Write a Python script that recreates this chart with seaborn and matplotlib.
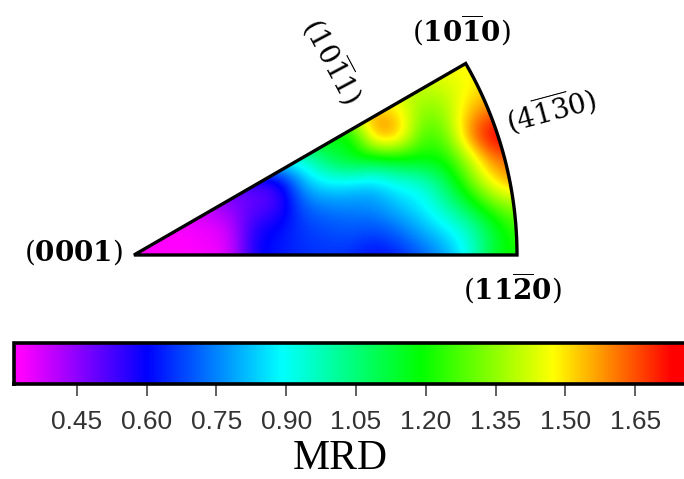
import numpy as np
import matplotlib
matplotlib.use("Agg")
import matplotlib.pyplot as plt
from matplotlib.colors import LinearSegmentedColormap, Normalize
from matplotlib.patches import Polygon
import seaborn as sns

# MRD sampled on a regular grid of the sector, top row first (outside the sector: nearest edge value)
row_y63  = [1.48]*13 + [1.48, 1.48, 1.50, 1.50]
row_y87  = [1.40]*12 + [1.40, 1.42, 1.47, 1.52, 1.52]
row_y111 = [1.50]*10 + [1.55, 1.50, 1.33, 1.36, 1.55, 1.62, 1.62]
row_y135 = [1.20]*8 + [1.20, 1.10, 1.62, 1.60, 1.25, 1.30, 1.62, 1.78, 1.75]
row_y159 = [0.92]*7 + [0.92, 1.08, 1.20, 1.15, 1.18, 1.20, 1.20, 1.40, 1.62, 1.62]
row_y183 = [0.50]*5 + [0.50, 0.52, 0.80, 0.88, 0.85, 0.82, 0.90, 0.92, 1.08, 1.30, 1.50, 1.58]
row_y207 = [0.40]*3 + [0.40, 0.45, 0.50, 0.52, 0.70, 0.74, 0.75, 0.76, 0.82, 0.87, 0.98, 1.12, 1.28, 1.35]
row_y231 = [0.32, 0.32, 0.33, 0.34, 0.37, 0.58, 0.62, 0.66, 0.68, 0.70, 0.68, 0.72, 0.80, 0.86, 0.95, 1.12, 1.25]
row_y255 = [0.32, 0.32, 0.33, 0.34, 0.36, 0.59, 0.62, 0.65, 0.66, 0.65, 0.60, 0.63, 0.70, 0.78, 0.92, 1.15, 1.22]
mrd_rows = [row_y63, row_y87, row_y111, row_y135, row_y159, row_y183, row_y207, row_y231, row_y255]

mrd_ticks = [0.45, 0.60, 0.75, 0.90, 1.05, 1.20, 1.35, 1.50, 1.65]
mrd_min, mrd_max = 0.315, 1.768
cmap_values = [0.33, 0.60, 0.89, 1.19, 1.475, 1.73, 1.768]
cmap_colors = ["#ff00ff", "#0000ff", "#00ffff", "#00ff00", "#ffff00", "#ff0000", "#ff0000"]

W, H = 684, 479
sns.set_style("white")
plt.rcParams["font.family"] = ["Liberation Sans", "DejaVu Sans"]
plt.rcParams["mathtext.fontset"] = "dejavuserif"

fig = plt.figure(figsize=(W / 100, H / 100), dpi=100)

def box(x0, y0, x1, y1):
    return [x0 / W, 1 - y1 / H, (x1 - x0) / W, (y1 - y0) / H]

ax = fig.add_axes(box(122, 51, 530, 267))
cax = fig.add_axes(box(14, 343, 690, 384))

grid = np.array(mrd_rows)
cmap = LinearSegmentedColormap.from_list(
    "mrd",
    [(0.0, "#ff00ff")] + [((v - mrd_min) / (mrd_max - mrd_min), c) for v, c in zip(cmap_values, cmap_colors)],
    N=512,
)

sns.heatmap(grid, ax=ax, cmap=cmap, vmin=mrd_min, vmax=mrd_max, square=False,
            xticklabels=False, yticklabels=False, cbar_ax=cax,
            cbar_kws={"orientation": "horizontal", "ticks": mrd_ticks})
mesh = ax.collections[0]

# Sector of the inverse pole figure, in heatmap cell units
cell = 24.0
radius = 383.0 / cell
apex = np.array([0.5, 8.5])
angles = np.radians(np.linspace(0, 30, 80))
sector = np.vstack([apex, np.column_stack([apex[0] + radius * np.cos(angles),
                                           apex[1] - radius * np.sin(angles)])])
outline = Polygon(sector, closed=True, fill=False, edgecolor="black", linewidth=2.4,
                  joinstyle="miter", zorder=5)
ax.add_patch(outline)

smooth = ax.imshow(grid, cmap=cmap, norm=Normalize(mrd_min, mrd_max), interpolation="bicubic",
                   extent=(0, grid.shape[1], grid.shape[0], 0), aspect="auto", zorder=3)
clip = Polygon(sector, closed=True, transform=ax.transData)
smooth.set_clip_path(clip)
mesh.set_clip_path(clip)
ax.set_xlim(0, grid.shape[1])
ax.set_ylim(grid.shape[0], 0)
ax.axis("off")

cbar = mesh.colorbar
cbar.outline.set_linewidth(2.6)
cbar.outline.set_edgecolor("black")
cax.xaxis.set_ticks_position("bottom")
cax.set_xticks(mrd_ticks)
cax.set_xticklabels([f"{t:.2f}" for t in mrd_ticks], fontsize=19, color="#333333")
cax.tick_params(axis="x", length=8.5, width=1.2, color="#444444", pad=10, bottom=True)

def label(x, y, s, size=20, rot=0):
    fig.text(x / W, 1 - y / H, s, ha="center", va="center", rotation=rot,
             rotation_mode="anchor", fontsize=size, color="black")

label(73, 252, r"$(\mathbf{0001})$")
label(461, 30, r"$(\mathbf{10\overline{1}0})$")
label(512, 288, r"$(\mathbf{11\overline{2}0})$")
label(333, 60, r"$(10\overline{1}1)$", 20, -62)
label(551, 110, r"$(4\overline{1}\overline{3}0)$", 20, 15)
fig.text(340 / W, 1 - 469 / H, "MRD", ha="center", va="baseline", fontsize=30,
         family="Liberation Serif", color="black")

fig.savefig("out.png", dpi=100)
